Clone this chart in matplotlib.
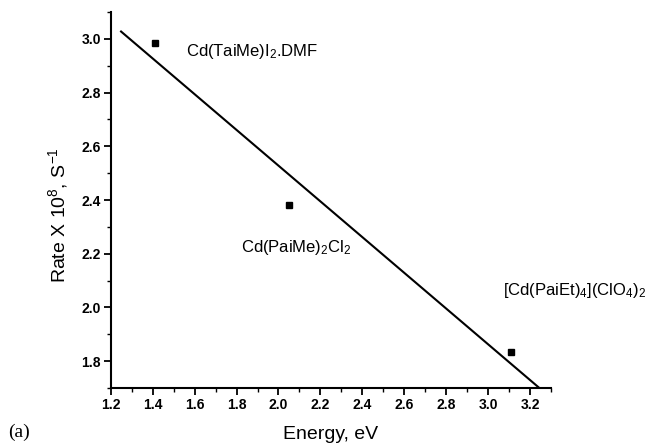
import matplotlib
matplotlib.use("Agg")
import matplotlib.pyplot as plt
from matplotlib.ticker import MultipleLocator

plt.rcParams['font.family'] = ['Liberation Sans', 'DejaVu Sans']
plt.rcParams['mathtext.fontset'] = 'custom'
plt.rcParams['mathtext.rm'] = 'Liberation Sans'
plt.rcParams['mathtext.it'] = 'Liberation Sans'
plt.rcParams['mathtext.default'] = 'regular'

# data
energy = [1.41, 2.05, 3.11]
rate = [2.985, 2.38, 1.835]
compounds = [r'Cd(TaiMe)I$_2$.DMF', r'Cd(PaiMe)$_2$Cl$_2$', r'[Cd(PaiEt)$_4$](ClO$_4$)$_2$']
label_x = [1.56, 1.82, 3.07]
label_y = [2.953, 2.225, 2.064]
fit_x = [1.245, 3.245]
fit_y = [3.03, 1.70]
xticks = [1.2, 1.4, 1.6, 1.8, 2.0, 2.2, 2.4, 2.6, 2.8, 3.0, 3.2]
yticks = [1.8, 2.0, 2.2, 2.4, 2.6, 2.8, 3.0]

fig = plt.figure(figsize=(6.52, 4.46), dpi=100)
ax = fig.add_axes([0.170, 0.130, 0.675, 0.843])

ax.plot(fit_x, fit_y, color='black', lw=1.5, solid_capstyle='butt')
ax.plot(energy, rate, 's', color='black', markersize=5)

for t, x, y in zip(compounds, label_x, label_y):
    ax.text(x, y, t, fontsize=12, va='center', ha='left')

ax.set_xlim(1.2, 3.3)
ax.set_ylim(1.7, 3.1)
ax.set_xticks(xticks)
ax.set_yticks(yticks)
ax.set_xticklabels([f'{v:.1f}' for v in xticks], fontweight='bold', fontsize=10)
ax.set_yticklabels([f'{v:.1f}' for v in yticks], fontweight='bold', fontsize=10)
ax.xaxis.set_minor_locator(MultipleLocator(0.1))
ax.yaxis.set_minor_locator(MultipleLocator(0.1))
ax.tick_params(which='major', direction='out', length=5, width=1.3, pad=2)
ax.tick_params(which='minor', direction='out', length=3, width=1.0)

for s in ['top', 'right']:
    ax.spines[s].set_visible(False)
for s in ['left', 'bottom']:
    ax.spines[s].set_linewidth(1.5)

ax.set_xlabel('Energy, eV', fontsize=14, labelpad=10.5)
ax.set_ylabel(r'Rate X 10$^8$, S$^{-1}$', fontsize=14)
ax.yaxis.set_label_coords(-0.093, 0.46)

fig.text(0.012, 0.03, '(a)', fontsize=14, family='Liberation Serif', ha='left', va='center')

fig.savefig('out.png', dpi=100)
